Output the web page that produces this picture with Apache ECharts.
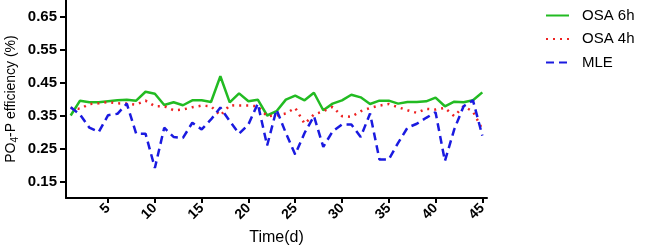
<!DOCTYPE html>
<html>
<head>
<meta charset="utf-8">
<script src="https://cdn.jsdelivr.net/npm/echarts@6/dist/echarts.min.js"></script>
<style>
    html, body { margin: 0; padding: 0; background: #fff; }
    #chart { width: 649px; height: 248px; }
</style>
</head>
<body>
<div id="chart"></div>
<script>
const days = [];
for (let d = 1; d <= 45; d++) days.push(d);

const osa6h = [0.350, 0.395, 0.390, 0.390, 0.393, 0.396, 0.398, 0.395, 0.422, 0.416,
    0.382, 0.390, 0.381, 0.396, 0.396, 0.391, 0.469, 0.390, 0.417, 0.393,
    0.398, 0.350, 0.363, 0.398, 0.410, 0.396, 0.419, 0.366, 0.386, 0.396,
    0.413, 0.405, 0.385, 0.395, 0.395, 0.386, 0.391, 0.391, 0.393, 0.404,
    0.378, 0.392, 0.390, 0.396, 0.420];
const osa4h = [0.373, 0.370, 0.385, 0.387, 0.391, 0.387, 0.386, 0.383, 0.395, 0.378,
    0.378, 0.366, 0.368, 0.375, 0.380, 0.378, 0.350, 0.381, 0.380, 0.380,
    0.378, 0.348, 0.350, 0.356, 0.373, 0.325, 0.353, 0.363, 0.376, 0.348,
    0.346, 0.363, 0.373, 0.380, 0.385, 0.375, 0.366, 0.358, 0.370, 0.368,
    0.373, 0.348, 0.378, 0.362, 0.308];
const mle = [0.375, 0.353, 0.313, 0.300, 0.351, 0.355, 0.386, 0.295, 0.295, 0.191,
    0.313, 0.285, 0.282, 0.328, 0.308, 0.338, 0.374, 0.333, 0.295, 0.323,
    0.386, 0.259, 0.368, 0.297, 0.232, 0.297, 0.348, 0.255, 0.302, 0.323,
    0.323, 0.285, 0.356, 0.217, 0.217, 0.267, 0.313, 0.325, 0.343, 0.360,
    0.212, 0.308, 0.378, 0.396, 0.289];

const xTicks = [5, 10, 15, 20, 25, 30, 35, 40, 45];
const yTicks = [0.15, 0.25, 0.35, 0.45, 0.55, 0.65];

function pairs(values) {
    return values.map(function (v, i) { return [days[i], v]; });
}

const chart = echarts.init(document.getElementById('chart'));
const axisColor = '#000';
const font = 'Liberation Sans, Arial, sans-serif';

const option = {
    animation: false,
    textStyle: { fontFamily: font },
    legend: {
        orient: 'vertical',
        left: 545,
        top: 8,
        padding: 0,
        itemWidth: 23,
        itemHeight: 14,
        itemGap: 8.5,
        itemStyle: { opacity: 0 },
        textStyle: { fontSize: 15, color: '#000', fontFamily: font, padding: [0, 0, 0, 8], lineHeight: 14 },
        data: ['OSA 6h', 'OSA 4h', 'MLE']
    },
    grid: {
        left: 66,
        right: 162,
        top: 0,
        bottom: 50,
        outerBoundsMode: 'none'
    },
    xAxis: {
        type: 'value',
        min: 0.5,
        max: 45.5,
        name: 'Time(d)',
        nameLocation: 'middle',
        nameGap: 32,
        nameMoveOverlap: false,
        nameTextStyle: { fontSize: 16, color: '#000', fontFamily: font },
        splitLine: { show: false },
        axisLine: { lineStyle: { color: axisColor, width: 2 } },
        axisTick: { customValues: xTicks, length: 5, lineStyle: { color: axisColor, width: 2 } },
        axisLabel: {
            customValues: xTicks,
            rotate: 45,
            fontSize: 14,
            fontWeight: 'bold',
            color: '#000',
            margin: 8
        }
    },
    yAxis: {
        type: 'value',
        min: 0.10,
        max: 0.70,
        name: '{a|PO}{s|4}{a|-P efficiency (%)}',
        nameLocation: 'middle',
        nameGap: 46,
        nameMoveOverlap: false,
        nameTextStyle: {
            color: '#000',
            rich: {
                a: { fontSize: 14, color: '#000', fontFamily: font },
                s: { fontSize: 10, color: '#000', fontFamily: font, padding: [8, 0, 0, 0] }
            }
        },
        splitLine: { show: false },
        axisLine: { show: true, lineStyle: { color: axisColor, width: 2 } },
        axisTick: { show: true, customValues: yTicks, length: 6, lineStyle: { color: axisColor, width: 2 } },
        axisLabel: {
            customValues: yTicks,
            fontSize: 15,
            fontWeight: 'bold',
            color: '#000',
            margin: 9,
            formatter: function (v) { return v.toFixed(2); }
        }
    },
    series: [
        {
            name: 'OSA 6h',
            type: 'line',
            symbol: 'none',
            data: pairs(osa6h),
            lineStyle: { color: '#22bb22', width: 2.5 },
            itemStyle: { color: '#22bb22' }
        },
        {
            name: 'OSA 4h',
            type: 'line',
            symbol: 'none',
            data: pairs(osa4h),
            lineStyle: { color: '#ee2222', width: 2.5, type: [2, 5] },
            itemStyle: { color: '#ee2222' }
        },
        {
            name: 'MLE',
            type: 'line',
            symbol: 'none',
            data: pairs(mle),
            lineStyle: { color: '#1a1ae0', width: 2.5, type: [8, 5] },
            itemStyle: { color: '#1a1ae0' }
        }
    ]
};
chart.setOption(option);
</script>
</body>
</html>
